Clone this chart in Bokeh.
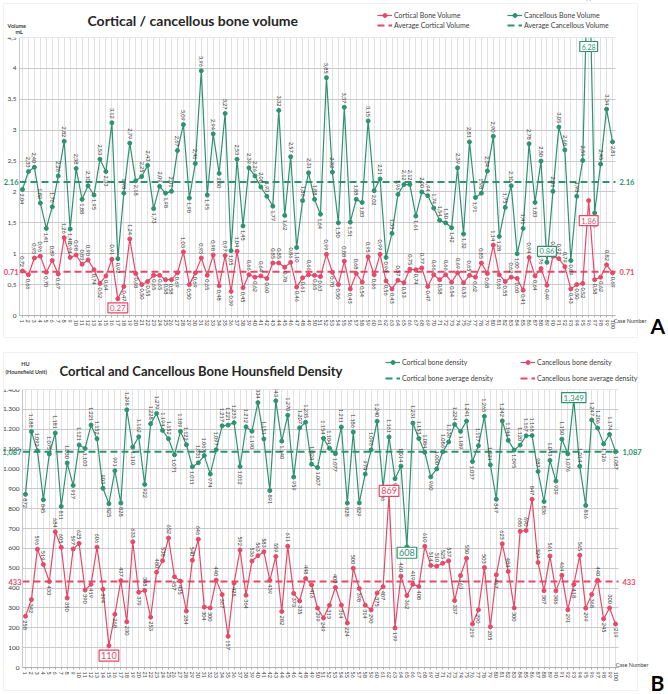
import math
from bokeh.plotting import figure
from bokeh.models import (Range1d, FixedTicker, Label, Legend, LegendItem,
                          BoxAnnotation, ColumnDataSource, Grid)
from bokeh.layouts import column
from bokeh.embed import file_html
from bokeh.resources import INLINE
from bokeh.core.properties import value

# ---------------- data ----------------
cases = list(range(1, 101))

cortical_volume = [
    0.72, 0.66, 0.93, 0.96, 0.70, 0.89, 0.67, 1.26, 0.94, 0.98,
    0.83, 0.90, 0.74, 0.52, 0.64, 0.91, 0.27, 0.47, 1.24, 0.68,
    0.50, 0.55, 0.65, 0.65, 0.58, 0.58, 0.69, 1.03, 0.50, 0.69,
    0.93, 0.65, 0.98, 0.48, 0.97, 0.39, 1.04, 0.45, 0.66, 0.62,
    0.64, 0.60, 0.85, 0.85, 0.78, 0.86, 0.46, 0.61, 0.66, 0.65,
    0.63, 0.99, 0.70, 0.50, 0.88, 0.43, 0.68, 0.54, 0.95, 0.66,
    0.99, 0.56, 0.43, 0.57, 0.53, 0.75, 0.74, 0.77, 0.47, 0.66,
    0.58, 0.66, 0.54, 0.69, 0.53, 0.65, 0.62, 0.85, 0.68, 1.14,
    0.66, 0.55, 0.62, 0.60, 0.41, 0.94, 0.64, 0.76, 0.49, 0.96,
    0.92, 0.79, 0.43, 0.50, 0.52, 1.86, 0.58, 0.62, 0.82, 0.69]

cancellous_volume = [
    2.04, 2.33, 2.40, 1.82, 1.41, 1.76, 2.26, 2.82, 1.40, 2.38,
    1.88, 2.10, 1.95, 2.53, 2.33, 3.12, 0.92, 1.98, 2.79, 2.18,
    2.25, 2.43, 1.73, 2.09, 1.98, 2.01, 2.67, 3.09, 1.90, 2.46,
    3.96, 1.95, 2.94, 2.30, 3.27, 1.05, 2.53, 1.45, 2.39, 2.26,
    2.08, 1.93, 1.77, 3.32, 1.62, 2.57, 1.10, 1.86, 2.31, 1.88,
    1.64, 3.85, 2.32, 1.50, 3.37, 1.51, 1.88, 1.83, 3.15, 2.02,
    2.21, 0.94, 1.33, 1.96, 2.12, 2.12, 1.61, 2.00, 1.94, 1.74,
    1.54, 1.50, 1.42, 2.39, 1.32, 2.81, 1.91, 1.98, 2.34, 2.90,
    1.28, 1.75, 2.10, 1.00, 1.41, 2.78, 1.83, 2.50, 0.86, 2.01,
    3.05, 2.68, 0.89, 1.93, 2.51, 6.28, 1.66, 2.45, 3.34, 2.81]

avg_cortical_volume = 0.71
avg_cancellous_volume = 2.16

cortical_density = [
    872, 1188, 1092, 845, 1075, 1181, 811, 1030, 917, 1121,
    1103, 1221, 1152, 903, 825, 991, 828, 1298, 1110, 1162,
    922, 1228, 1279, 1194, 1152, 1071, 1189, 1122, 1011, 1031,
    1067, 974, 1097, 1217, 1221, 1233, 1012, 1212, 1190, 1334,
    1151, 891, 1343, 1140, 1270, 959, 1207, 1235, 1024, 1007,
    1154, 1104, 1077, 1211, 828, 1186, 829, 974, 1096, 1240,
    906, 1161, 951, 1014, 608, 1231, 1153, 1084, 960, 1000,
    1086, 1136, 1224, 1189, 1241, 1037, 1117, 1265, 1021, 847,
    1242, 1144, 1095, 1120, 1167, 1168, 987, 836, 1043, 939,
    1150, 1076, 1349, 1014, 816, 1247, 1206, 1126, 1174, 1087]

cancellous_density = [
    258, 342, 596, 519, 433, 684, 605, 350, 597, 625,
    390, 419, 606, 394, 110, 268, 437, 230, 633, 379,
    388, 253, 480, 538, 652, 457, 435, 284, 540, 646,
    304, 300, 440, 367, 157, 425, 592, 364, 536, 563,
    583, 439, 559, 282, 611, 373, 335, 448, 416, 299,
    249, 313, 403, 314, 224, 500, 398, 314, 290, 375,
    407, 869, 199, 460, 362, 419, 408, 610, 514, 510,
    525, 537, 337, 463, 550, 219, 290, 503, 205, 467,
    623, 484, 300, 686, 690, 847, 529, 387, 561, 386,
    464, 291, 418, 565, 299, 368, 440, 245, 300, 219]

avg_cortical_density = 1087
avg_cancellous_density = 433

volume_ticks = [0, 0.5, 1, 1.5, 2, 2.5, 3, 3.5, 4, 4.5]
volume_tick_labels = ["0", "0,5", "1", "1,5", "2", "2,5", "3", "3,5", "4", "4,5"]
density_ticks = [0, 100, 200, 300, 400, 500, 600, 700, 800, 900,
                 1000, 1100, 1200, 1300, 1400]
density_tick_labels = ["0", "100", "200", "300", "400", "500", "600", "700",
                       "800", "900", "1.000", "1.100", "1.200", "1.300", "1.400"]

# ---------------- style ----------------
RED = "#E4496A"
GREEN = "#2E9270"
DARK = "#3c3c3c"
FONT = "Lato"
W = 668
HAS_CB = "cross_bounds" in Grid.properties()


def fmt_volume(v):
    return f"{v:.2f}".replace(".", ",")


def fmt_density(v):
    return f"{v:,}".replace(",", ".")


def label_up(vals, i, kind, thr):
    v = vals[i]
    nb = [vals[j] for j in (i - 1, i + 1) if 0 <= j < len(vals)]
    if kind == "green":
        return not all(v < u for u in nb)
    return all(v > u for u in nb) or v > thr


def make_panel(H, XL, XR, ytop, ybot, yend, yticks, ytlabels, series, avgs,
               fmt, title, title_size, title_pos, legends, leg_top, leg_gap,
               axis_titles, highlights, letter, box, letter_pos, case_pos):
    x0, x1 = cases[0] - 0.5, cases[-1] + 0.5
    kx = (XR - XL) / (x1 - x0)
    ky = (ybot - ytop) / yend
    p = figure(width=W, height=H, output_backend="svg",
               toolbar_location=None,
               x_range=Range1d(x0 - XL / kx, x1 + (W - XR) / kx),
               y_range=Range1d(-(H - ybot) / ky, yend + ytop / ky),
               min_border=0)
    p.outline_line_color = None
    p.background_fill_color = "white"

    def S(cx, cy):           # canvas px -> screen units of the frame
        return cx, H - cy

    # axes, fixed at the edges of the value region
    xa, ya = p.xaxis[0], p.yaxis[0]
    xa.fixed_location = 0
    ya.fixed_location = x0
    xa.bounds = (x0, x1)
    ya.bounds = (0, yend)
    xa.ticker = FixedTicker(ticks=cases)
    xa.major_label_orientation = "vertical"
    xa.major_label_text_font_size = "5.5px"
    xa.major_label_text_font = FONT
    xa.major_label_text_color = DARK
    xa.major_label_standoff = 2
    xa.major_tick_out = 2
    xa.major_tick_in = 0
    xa.minor_tick_out = 0
    xa.axis_line_color = "#b0b0b0"
    xa.major_tick_line_color = "#b0b0b0"

    ya.ticker = FixedTicker(ticks=yticks)
    ya.major_label_overrides = {t: s for t, s in zip(yticks, ytlabels)}
    ya.major_label_text_font_size = "6.5px"
    ya.major_label_text_font = FONT
    ya.major_label_text_color = DARK
    ya.major_label_standoff = 3
    ya.major_tick_out = 0
    ya.major_tick_in = 0
    ya.minor_tick_out = 0
    ya.minor_tick_in = 0
    ya.axis_line_color = "#c8c8c8"

    p.xgrid.grid_line_color = "#e2e2e2"
    p.ygrid.grid_line_color = "#c9c9c9"
    p.xgrid.bounds = (x0, x1)
    p.ygrid.bounds = (0, yend)
    if HAS_CB:
        p.xgrid.cross_bounds = (0, yend)
        p.ygrid.cross_bounds = (x0, x1)
    else:
        p.xgrid.visible = False
        p.ygrid.visible = False
        p.segment(x0=cases, x1=cases, y0=[0] * len(cases),
                  y1=[yend] * len(cases), line_color="#e2e2e2", level="image")
        p.segment(x0=[x0] * len(yticks), x1=[x1] * len(yticks), y0=yticks,
                  y1=yticks, line_color="#c9c9c9", level="image")

    rends = {}
    # average lines
    for key, (avg, color, txt) in avgs.items():
        r = p.line(x=[x0, x1], y=[avg, avg],
                   line_color=color, line_width=2, line_dash="7 4")
        rends["avg_" + key] = [r]

    # series
    for key, (vals, color, kind, thr) in series.items():
        lr = p.line(cases, vals, line_color=color, line_width=1.2)
        sr = p.scatter(cases, vals, size=4, color=color)
        rends[key] = [lr, sr]
        skip = {c for (k, c, _, _) in highlights if k == key}
        up = dict(x=[], y=[], t=[])
        dn = dict(x=[], y=[], t=[])
        for i, (c, v) in enumerate(zip(cases, vals)):
            if c in skip:
                continue
            d = up if label_up(vals, i, kind, thr) else dn
            d["x"].append(c)
            d["y"].append(v)
            d["t"].append(fmt(v))
        p.text(x="x", y="y", text="t", source=ColumnDataSource(up),
               angle=-math.pi / 2, text_align="right", text_baseline="middle",
               y_offset=-4, text_font_size="5.5px", text_color=DARK,
               text_font=value(FONT))
        p.text(x="x", y="y", text="t", source=ColumnDataSource(dn),
               angle=-math.pi / 2, text_align="left", text_baseline="middle",
               y_offset=4, text_font_size="5.5px", text_color=DARK,
               text_font=value(FONT))

    # white cover above the value range (values beyond the top are cut off)
    p.add_layout(BoxAnnotation(bottom=yend, bottom_units="data",
                               fill_color="white", fill_alpha=1,
                               line_alpha=0))

    # chart border
    l, t = S(box[0], box[1])
    r_, b = S(box[2], box[3])
    p.add_layout(BoxAnnotation(left=l, right=r_, top=t, bottom=b,
                               left_units="screen", right_units="screen",
                               top_units="screen", bottom_units="screen",
                               fill_alpha=0, line_color="#d2d2d2",
                               line_width=1))

    # average value labels, both sides
    for key, (avg, color, txt) in avgs.items():
        for xs, al in ((XL - 1, "right"), (XR + 4, "left")):
            p.add_layout(Label(x=xs, x_units="screen", y=avg, text=txt,
                               text_align=al, text_baseline="middle",
                               text_font=FONT, text_font_style="bold",
                               text_font_size="7.5px", text_color=color))

    # highlighted values
    for key, c, dy, size in highlights:
        vals, color = series[key][0], series[key][1]
        v = vals[cases.index(c)]
        txt = f"{v:.2f}" if isinstance(v, float) else f"{v:,}"
        y = v
        if v > yend:
            y, dy = yend, -9
        p.add_layout(Label(x=c, y=y, y_offset=dy, text=txt,
                           text_align="center", text_baseline="middle",
                           text_font=FONT, text_font_size=size,
                           text_color=color, border_line_color=color,
                           border_line_width=1.2,
                           background_fill_color="white", padding=2))

    # legends
    for lx, items in legends:
        leg_h = 20 + leg_gap
        leg = Legend(items=[LegendItem(label=lab, renderers=rends[k])
                            for lab, k in items],
                     location=(lx, H - leg_top - leg_h),
                     orientation="vertical",
                     label_text_font=FONT, label_text_font_size="7px",
                     label_text_color=DARK, label_height=10,
                     glyph_height=10, glyph_width=15, label_standoff=2,
                     padding=0, margin=0, spacing=leg_gap,
                     border_line_color=None, background_fill_alpha=0)
        p.add_layout(leg)

    # title and other texts
    tx, ty = S(*title_pos)
    p.add_layout(Label(x=tx, y=ty, x_units="screen", y_units="screen",
                       text=title, text_font=FONT,
                       text_font_style="bold", text_font_size=title_size,
                       text_color="#262626", text_baseline="middle"))
    for txt, cx, cy, align in axis_titles:
        ax_, ay_ = S(cx, cy)
        p.add_layout(Label(x=ax_, y=ay_, x_units="screen", y_units="screen",
                           text=txt, text_font=FONT, text_font_style="bold",
                           text_font_size="5.5px", text_color=DARK,
                           text_align=align, text_baseline="middle"))
    cx_, cy_ = S(*case_pos)
    p.add_layout(Label(x=cx_, y=cy_, x_units="screen", y_units="screen",
                       text="Case Number", text_font=FONT,
                       text_font_size="5.5px", text_color=DARK,
                       text_align="right", text_baseline="middle"))
    lx_, ly_ = S(*letter_pos)
    p.add_layout(Label(x=lx_, y=ly_, x_units="screen",
                       y_units="screen", text=letter, text_font=FONT,
                       text_font_style="bold", text_font_size="21px",
                       text_color="black", text_baseline="bottom"))
    return p


p1 = make_panel(
    H=346, XL=19, XR=615, ytop=37, ybot=315, yend=4.5,
    yticks=volume_ticks, ytlabels=volume_tick_labels,
    series={"cort": (cortical_volume, RED, "red", 0.78),
            "canc": (cancellous_volume, GREEN, "green", 0)},
    avgs={"cort": (avg_cortical_volume, RED, "0.71"),
          "canc": (avg_cancellous_volume, GREEN, "2.16")},
    fmt=fmt_volume,
    title="Cortical / cancellous bone volume", title_size="14px",
    title_pos=(87, 20),
    legends=[(377, [("Cortical Bone Volume", "cort"),
                    ("Average Cortical Volume", "avg_cort")]),
             (507, [("Cancellous Bone Volume", "canc"),
                    ("Average Cancellous Volume", "avg_canc")])],
    leg_top=10, leg_gap=0,
    axis_titles=[("Volume", 7, 25, "left"), ("mL", 15, 31, "left")],
    highlights=[("cort", 17, -9, "8px"), ("cort", 96, -20, "7.5px"),
                ("canc", 89, 11, "7.5px"), ("canc", 96, -9, "7px")],
    letter="A", box=(3, 3, 637, 337), letter_pos=(650, 337),
    case_pos=(646, 320))

p2 = make_panel(
    H=348, XL=22, XR=618, ytop=43, ybot=321, yend=1400,
    yticks=density_ticks, ytlabels=density_tick_labels,
    series={"cort": (cortical_density, GREEN, "green", 0),
            "canc": (cancellous_density, RED, "red", 476)},
    avgs={"cort": (avg_cortical_density, GREEN, "1,087"),
          "canc": (avg_cancellous_density, RED, "433")},
    fmt=fmt_density,
    title="Cortical and Cancellous Bone Hounsfield Density", title_size="13px",
    title_pos=(59, 24),
    legends=[(385, [("Cortical bone density", "cort"),
                    ("Cortical bone average density", "avg_cort")]),
             (520, [("Cancellous bone density", "canc"),
                    ("Cancellous bone average density", "avg_canc")])],
    leg_top=11, leg_gap=6,
    axis_titles=[("HU", 25, 17, "center"),
                 ("(Hounsfield Unit)", 5, 25, "left")],
    highlights=[("canc", 15, -10, "9px"), ("canc", 62, 4, "9px"),
                ("cort", 65, -6, "9px"), ("cort", 93, 2, "8px")],
    letter="B", box=(3, 6, 637, 344), letter_pos=(650, 348),
    case_pos=(648, 318))

layout = column(p1, p2, spacing=0)
open("out.html", "w").write(file_html(layout, INLINE))
